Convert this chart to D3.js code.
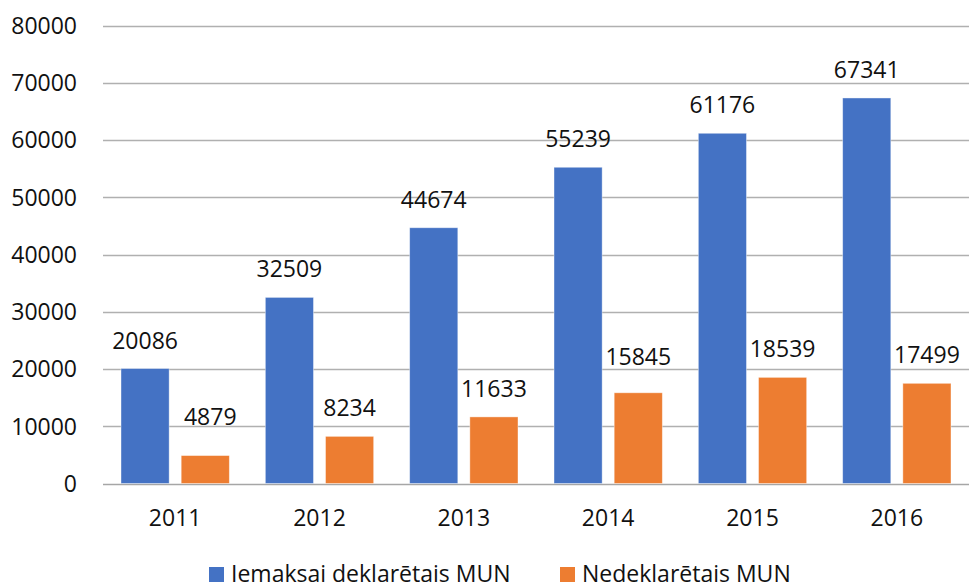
<!DOCTYPE html>
<html>
<head>
<meta charset="utf-8">
<script src="https://cdn.jsdelivr.net/npm/d3@7"></script>
<style>
  body { margin: 0; background: #fff; }
  svg { display: block; font-family: "Open Sans", sans-serif; }
</style>
</head>
<body>
<svg id="chart" width="969" height="585"></svg>
<script>
const years = ["2011", "2012", "2013", "2014", "2015", "2016"];
const declared = [20086, 32509, 44674, 55239, 61176, 67341];
const undeclared = [4879, 8234, 11633, 15845, 18539, 17499];
const seriesNames = ["Iemaksai deklarētais MUN", "Nedeklarētais MUN"];
const yTicks = [0, 10000, 20000, 30000, 40000, 50000, 60000, 70000, 80000];

const colors = ["#4472C4", "#ED7D31"];
const width = 969;
const margin = { top: 25.5, right: 0, bottom: 101.5, left: 103 };
const fontSize = 23;

const svg = d3.select("#chart");

const x = d3.scaleBand()
  .domain(years)
  .range([margin.left, width - margin.right]);

const inner = d3.scaleBand()
  .domain([0, 1])
  .range([18, x.bandwidth() - 18])
  .paddingInner(0.2);

const y = d3.scaleLinear()
  .domain([0, 80000])
  .range([585 - margin.bottom, margin.top]);

// grid lines
svg.append("g")
  .selectAll("line")
  .data(yTicks)
  .join("line")
  .attr("x1", margin.left)
  .attr("x2", width)
  .attr("y1", d => Math.round(y(d)) + 0.5)
  .attr("y2", d => Math.round(y(d)) + 0.5)
  .attr("stroke", d => d === 0 ? "#a6a6a6" : "#b0b0b0")
  .attr("stroke-width", 1.3);

// y tick labels
svg.append("g")
  .selectAll("text")
  .data(yTicks)
  .join("text")
  .attr("x", 77)
  .attr("y", d => y(d))
  .attr("dy", "0.36em")
  .attr("text-anchor", "end")
  .attr("fill", "#111")
  .style("font-size", fontSize + "px")
  .text(d => d);

const rows = years.map((year, i) => ({ year, values: [declared[i], undeclared[i]] }));

const group = svg.append("g")
  .selectAll("g")
  .data(rows)
  .join("g")
  .attr("transform", d => `translate(${x(d.year)},0)`);

group.selectAll("rect")
  .data(d => d.values.map((v, s) => ({ v, s })))
  .join("rect")
  .attr("x", d => inner(d.s))
  .attr("width", inner.bandwidth())
  .attr("y", d => y(d.v))
  .attr("height", d => y(0) - y(d.v))
  .attr("fill", d => colors[d.s])
  .attr("stroke", "#fff")
  .attr("stroke-opacity", 0.5)
  .attr("stroke-width", 0.8);

// a couple of labels sit lower/right in the original
const nudge = { "4879": [5, 11], "15845": [0, 8] };

group.selectAll("text.value")
  .data(d => d.values.map((v, s) => ({ v, s })))
  .join("text")
  .attr("class", "value")
  .attr("x", d => inner(d.s) + inner.bandwidth() / 2 + (nudge[d.v] ? nudge[d.v][0] : 0))
  .attr("y", d => y(d.v) - 20 + (nudge[d.v] ? -nudge[d.v][1] : 0))
  .attr("text-anchor", "middle")
  .attr("fill", "#111")
  .style("font-size", fontSize + "px")
  .text(d => d.v);

// x labels
svg.append("g")
  .selectAll("text")
  .data(years)
  .join("text")
  .attr("x", d => x(d) + x.bandwidth() / 2)
  .attr("y", 526)
  .attr("text-anchor", "middle")
  .attr("fill", "#111")
  .style("font-size", fontSize + "px")
  .text(d => d);

// legend
const legendX = [209, 560];
const legend = svg.append("g")
  .selectAll("g")
  .data(seriesNames)
  .join("g")
  .attr("transform", (d, i) => `translate(${legendX[i]},567)`);

legend.append("rect")
  .attr("width", 15)
  .attr("height", 15)
  .attr("fill", (d, i) => colors[i]);

legend.append("text")
  .attr("x", 22)
  .attr("y", 15)
  .attr("fill", "#111")
  .style("font-size", fontSize + "px")
  .text(d => d);
</script>
</body>
</html>
